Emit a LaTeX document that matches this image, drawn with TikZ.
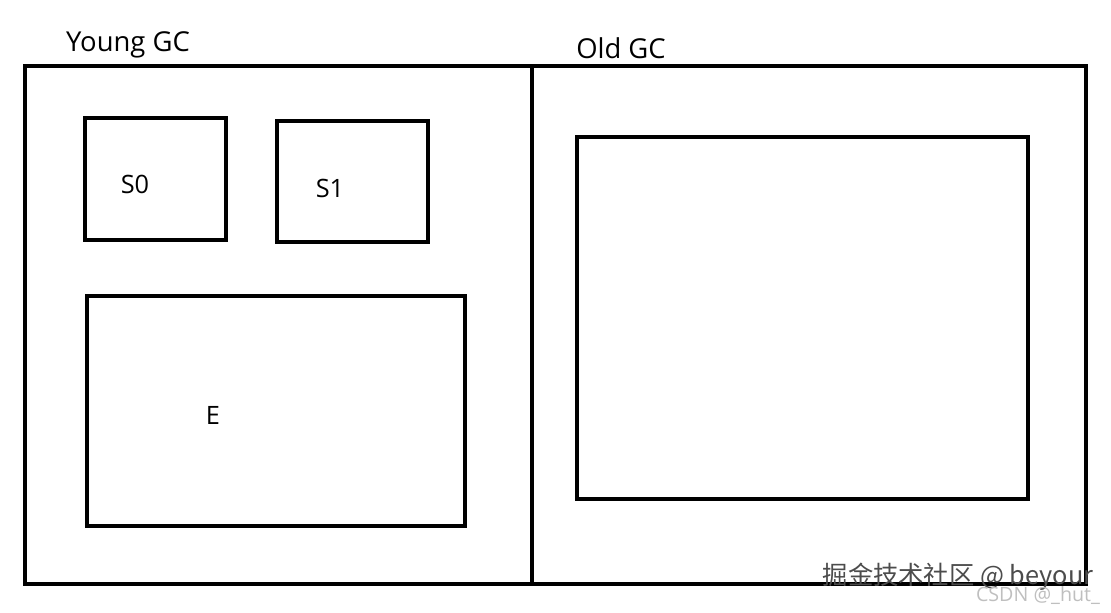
\documentclass[tikz,border=0pt]{standalone}
\usepackage{fontspec}
\setmainfont{Open Sans}
\newfontfamily\cjk{Noto Sans CJK SC}
\usetikzlibrary{positioning}
\tikzset{
  region/.style={draw, line width=3pt, inner sep=0pt, outer sep=0pt},
  lbl/.style={font=\fontsize{18pt}{20pt}\selectfont, inner sep=0pt},
  ttl/.style={font=\fontsize{19.5pt}{22pt}\selectfont, inner sep=0pt}
}
\begin{document}
\begin{tikzpicture}[x=0.025cm, y=-0.025cm]
    \useasboundingbox (0,0) rectangle (1111,612);
    % outer heap
    \node[region, minimum width=507*0.025cm, minimum height=518*0.025cm] (young) at (278.5,325) {};
    \node[region, minimum width=554*0.025cm, minimum height=518*0.025cm] (old) at (809,325) {};
    \node[ttl] (youngT) at (128,45) {Young GC};
    \node[ttl] (oldT) at (621,48) {Old GC};

    % young generation
    \node[region, minimum width=141*0.025cm, minimum height=122*0.025cm] (S0) at (155.5,179) {};
    \node[region, minimum width=151*0.025cm, minimum height=121*0.025cm] (S1) at (352.5,181.5) {};
    \node[region, minimum width=378*0.025cm, minimum height=230*0.025cm] (E) at (276,411) {};
    \node[lbl] (S0T) at (135,184) {S0};
    \node[lbl] (S1T) at (330,188) {S1};
    \node[lbl] (ET) at (213,415) {E};

    % old generation
    \node[region, minimum width=451*0.025cm, minimum height=362*0.025cm] (tenured) at (802.5,318) {};

    % watermarks
    \node[inner sep=0pt, font=\cjk\fontsize{18pt}{20pt}\selectfont, text=black!70] (wm1) at (958,577) {掘金技术社区 @ beyour};
    \node[inner sep=0pt, font=\fontsize{14pt}{16pt}\selectfont, text=black!25] (wm2) at (1038,596) {CSDN @\_hut\_};
\end{tikzpicture}
\end{document}
